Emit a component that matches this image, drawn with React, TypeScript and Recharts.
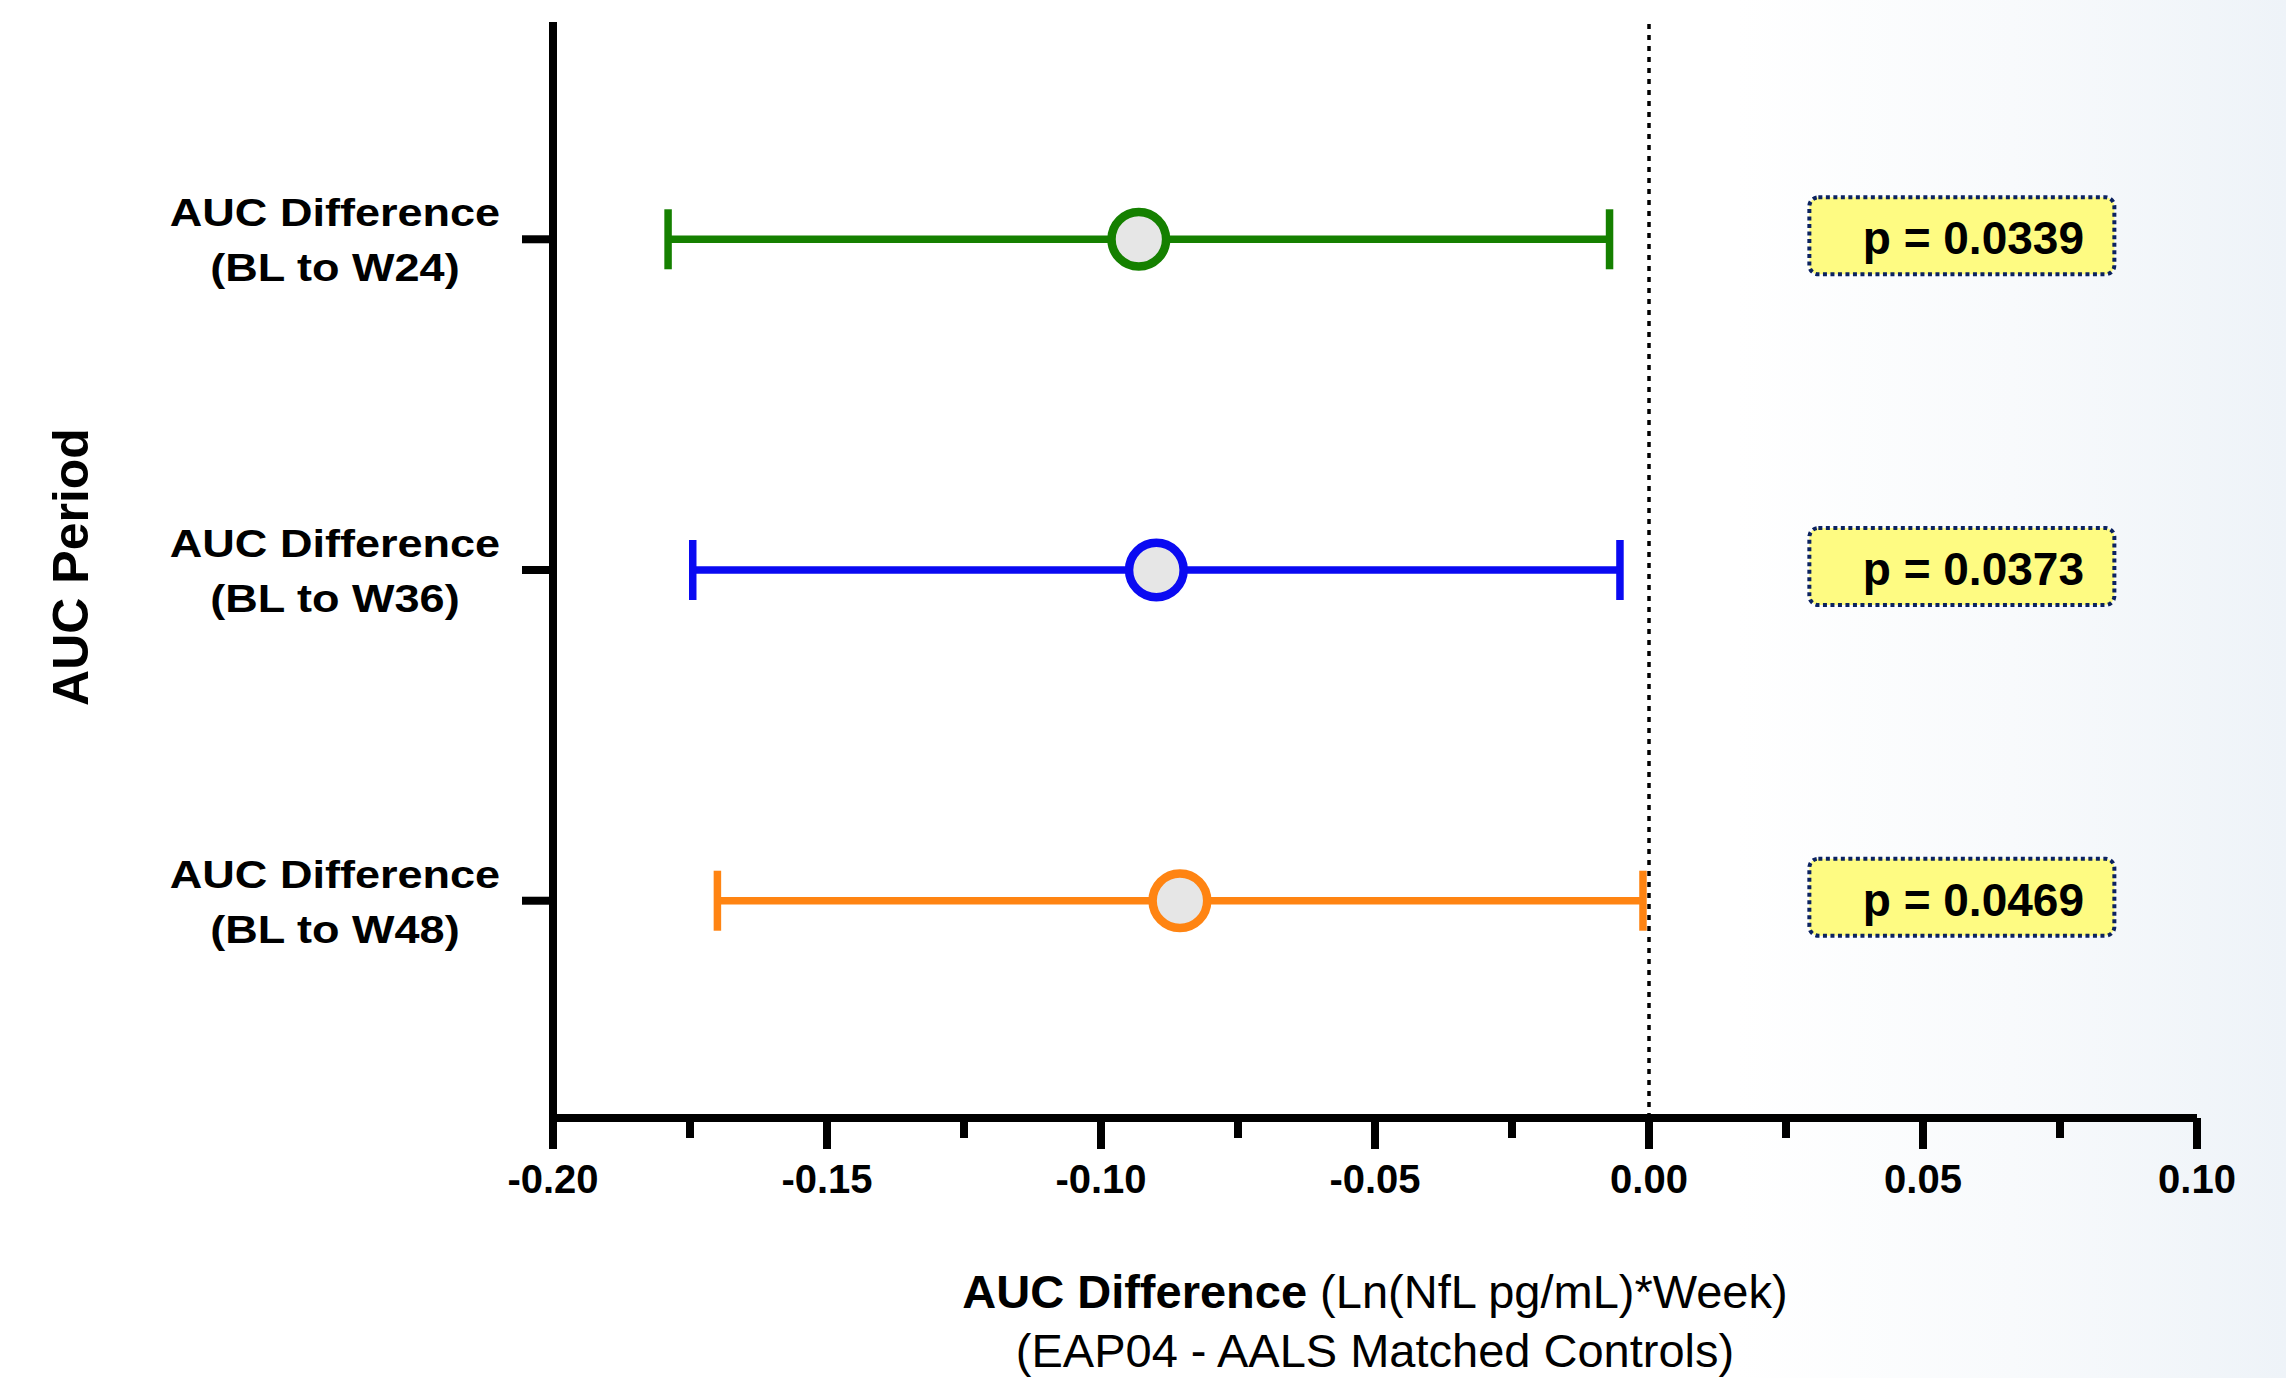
import React from 'react';
import { ScatterChart, Scatter, XAxis, YAxis, ErrorBar, ReferenceLine } from 'recharts';

const periodLine1 = ['AUC Difference', 'AUC Difference', 'AUC Difference'];
const periodLine2 = ['(BL to W24)', '(BL to W36)', '(BL to W48)'];
const positions = [1, 2, 3];
const means = [-0.0931, -0.0899, -0.0856];
const lowers = [-0.179, -0.1745, -0.170];
const uppers = [-0.0072, -0.0053, -0.0011];
const pValues = ['p = 0.0339', 'p = 0.0373', 'p = 0.0469'];
const seriesColors = ['#158000', '#0A0AF2', '#FF8412'];
const xTicks = [-0.2, -0.175, -0.15, -0.125, -0.1, -0.075, -0.05, -0.025, 0, 0.025, 0.05, 0.075, 0.1];
const xTickLabels = ['-0.20', '', '-0.15', '', '-0.10', '', '-0.05', '', '0.00', '', '0.05', '', '0.10'];

const PVAL_X = 0.057;
const FONT = '"Liberation Sans", Arial, Helvetica, sans-serif';

const seriesData = positions.map((y, i) => [
  { x: means[i], y, err: [means[i] - lowers[i], uppers[i] - means[i]] },
]);
const pvalData = positions.map((y, i) => ({ x: PVAL_X, y, label: pValues[i] }));

const XTick = (props: any) => {
  const { x, y, index } = props;
  const label = xTickLabels[index] ?? '';
  const major = label !== '';
  return (
    <g>
      <line x1={x} x2={x} y1={y} y2={y + (major ? 31 : 20)} stroke="#000" strokeWidth={8} />
      {major && (
        <text x={x} y={y + 75} textAnchor="middle" fontFamily={FONT} fontWeight="bold" fontSize={40} fill="#000">
          {label}
        </text>
      )}
    </g>
  );
};

const YTick = (props: any) => {
  const { x, y, index } = props;
  const cx = x - 218;
  return (
    <g>
      <line x1={x - 31} x2={x} y1={y} y2={y} stroke="#000" strokeWidth={8} />
      <g transform={`translate(${cx}, ${y}) scale(1.17, 1)`}>
        <text x={0} y={-13} textAnchor="middle" fontFamily={FONT} fontWeight="bold" fontSize={38.5} fill="#000">
          {periodLine1[index]}
        </text>
        <text x={0} y={42} textAnchor="middle" fontFamily={FONT} fontWeight="bold" fontSize={38.5} fill="#000">
          {periodLine2[index]}
        </text>
      </g>
    </g>
  );
};

const XTitle = (p: any) => {
  const vb = p.viewBox || { x: 553, y: 1118, width: 1644, height: 260 };
  const cx = vb.x + vb.width / 2;
  return (
    <g>
      <text x={cx} y={vb.y + 190} textAnchor="middle" fontFamily={FONT} fontSize={47} fill="#000">
        <tspan fontWeight="bold">AUC Difference</tspan>
        <tspan> (Ln(NfL pg/mL)*Week)</tspan>
      </text>
      <text x={cx} y={vb.y + 249} textAnchor="middle" fontFamily={FONT} fontSize={47} fill="#000">
        (EAP04 - AALS Matched Controls)
      </text>
    </g>
  );
};

const YTitle = (p: any) => {
  const vb = p.viewBox || { x: 0, y: 22, width: 553, height: 1096 };
  const cy = vb.y + vb.height / 2 - 3;
  return (
    <text
      transform={`translate(88, ${cy}) rotate(-90)`}
      textAnchor="middle"
      fontFamily={FONT}
      fontWeight="bold"
      fontSize={50}
      fill="#000"
    >
      AUC Period
    </text>
  );
};

const makeMarker = (color: string) => (p: any) => {
  const { cx, cy } = p;
  return <circle cx={cx} cy={cy} r={27.3} fill="#E6E6E6" stroke={color} strokeWidth={8.5} />;
};

const PBox = (p: any) => {
  const { cx, cy } = p;
  const label = (p.payload && p.payload.label) ?? p.label;
  return (
    <g>
      <rect
        x={cx - 152}
        y={cy - 42}
        width={305}
        height={77}
        rx={9}
        ry={9}
        fill="#FEFB82"
        stroke="#0B2260"
        strokeWidth={4}
        strokeDasharray="4 3.5"
      />
      <text x={cx + 12} y={cy + 15} textAnchor="middle" fontFamily={FONT} fontWeight="bold" fontSize={46} fill="#000">
        {label}
      </text>
    </g>
  );
};

export default function App() {
  return (
    <div
      style={{
        position: 'absolute',
        left: 0,
        top: 0,
        width: 2286,
        height: 1378,
        background: 'linear-gradient(to right, #ffffff 0%, #ffffff 76%, #f8fafc 88%, #eef3f8 100%)',
      }}
    >
      <ScatterChart width={2286} height={1378} margin={{ top: 22, right: 89, bottom: 0, left: 0 }}>
        <XAxis
          type="number"
          dataKey="x"
          domain={[-0.2, 0.1]}
          ticks={xTicks}
          interval={0}
          allowDataOverflow
          tickSize={0}
          tickMargin={0}
          tickLine={false}
          tick={<XTick />}
          axisLine={{ stroke: '#000', strokeWidth: 8 }}
          height={260}
          label={{ content: XTitle }}
        />
        <YAxis
          type="number"
          dataKey="y"
          domain={[0.343, 3.657]}
          reversed
          ticks={positions}
          interval={0}
          allowDataOverflow
          tickSize={0}
          tickMargin={0}
          tickLine={false}
          tick={<YTick />}
          axisLine={{ stroke: '#000', strokeWidth: 8 }}
          width={553}
          label={{ content: YTitle }}
        />
        <ReferenceLine x={0} stroke="#000" strokeWidth={3.5} strokeDasharray="5 6" />
        {seriesData.map((d, i) => (
          <Scatter
            key={i}
            data={d}
            isAnimationActive={false}
            shape={makeMarker(seriesColors[i])}
          >
            <ErrorBar dataKey="err" direction="x" width={30} strokeWidth={7.5} stroke={seriesColors[i]} />
          </Scatter>
        ))}
        <Scatter data={pvalData} isAnimationActive={false} shape={PBox} />
      </ScatterChart>
    </div>
  );
}
